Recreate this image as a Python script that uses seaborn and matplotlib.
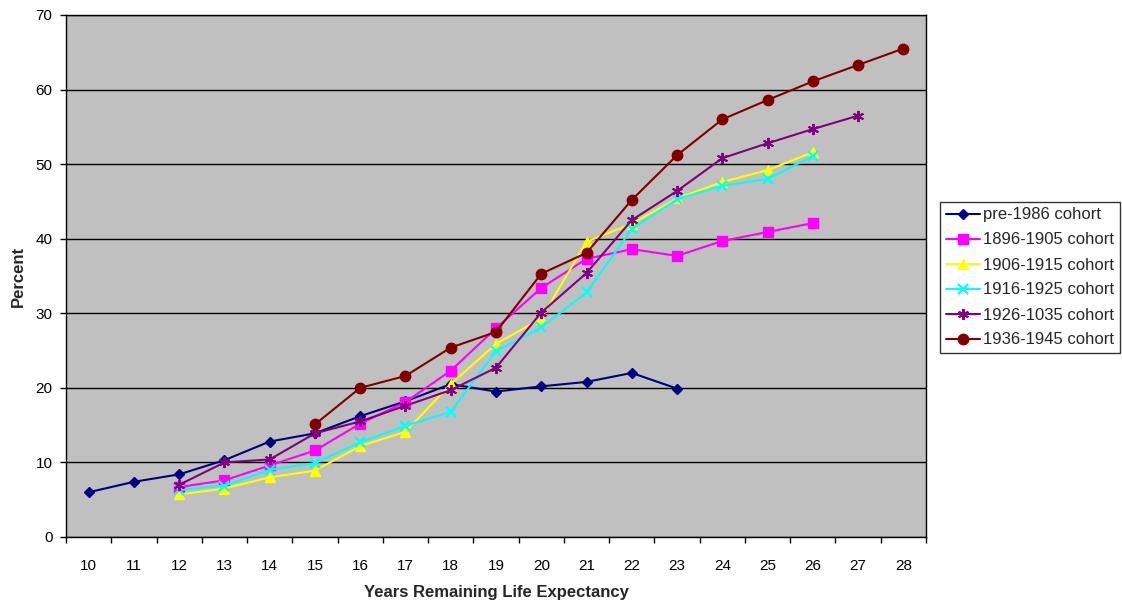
import matplotlib
matplotlib.use("Agg")
import matplotlib.pyplot as plt
import seaborn as sns
import pandas as pd
from matplotlib.ticker import FixedLocator, NullFormatter

# Years of remaining life expectancy (category axis)
years = list(range(10, 29))

# Percent by cohort; each series starts at its own first year
pre1986_x = list(range(10, 24))
pre1986 = [6.0, 7.4, 8.4, 10.3, 12.8, 13.9, 16.2, 18.2, 20.5, 19.5, 20.2, 20.8, 22.0, 19.9]

c1896_x = list(range(12, 27))
c1896 = [6.7, 7.6, 9.6, 11.6, 15.2, 18.1, 22.3, 28.0, 33.4, 37.3, 38.6, 37.7, 39.7, 40.9, 42.1]

c1906_x = list(range(12, 27))
c1906 = [5.7, 6.5, 8.0, 8.9, 12.2, 14.1, 20.5, 25.9, 29.3, 39.6, 42.0, 45.4, 47.6, 49.2, 51.6]

c1916_x = list(range(12, 27))
c1916 = [6.3, 6.9, 9.0, 9.9, 12.7, 14.9, 16.8, 24.9, 28.1, 32.8, 41.3, 45.3, 47.1, 48.0, 51.1]

c1926_x = list(range(12, 28))
c1926 = [7.0, 10.0, 10.4, 13.9, 15.5, 17.6, 19.7, 22.7, 30.1, 35.4, 42.5, 46.4, 50.8, 52.8, 54.7, 56.5]

c1936_x = list(range(15, 29))
c1936 = [15.1, 20.0, 21.6, 25.4, 27.5, 35.3, 38.1, 45.2, 51.2, 56.0, 58.6, 61.1, 63.3, 65.5]

labels = ["pre-1986 cohort", "1896-1905 cohort", "1906-1915 cohort",
          "1916-1925 cohort", "1926-1035 cohort", "1936-1945 cohort"]

sns.set_theme(style="white")
plt.rcParams["font.family"] = ["Liberation Sans", "DejaVu Sans"]

fig = plt.figure(figsize=(11.22, 6.02), dpi=100)
fig.patch.set_facecolor("white")
ax = fig.add_axes([66 / 1122, 1 - 537 / 602, (926 - 66) / 1122, (537 - 15) / 602])
ax.set_facecolor("#C0C0C0")

series = [
    (pre1986_x, pre1986, "#000080", "D", 5.5, 1.0),
    (c1896_x, c1896, "#FF00FF", "s", 7.0, 1.0),
    (c1906_x, c1906, "#FFFF00", "^", 7.0, 1.0),
    (c1916_x, c1916, "#00FFFF", "x", 7.0, 1.6),
    (c1926_x, c1926, "#800080", (6, 2, 0), 8.0, 1.4),
    (c1936_x, c1936, "#800000", "o", 7.5, 1.0),
]

pos = {y: i for i, y in enumerate(years)}
for (xs, ys, color, marker, ms, mew), label in zip(series, labels):
    df = pd.DataFrame({"pos": [pos[v] for v in xs], "pct": ys})
    sns.lineplot(data=df, x="pos", y="pct", ax=ax, color=color, marker=marker,
                 markersize=ms, markeredgecolor=color, markerfacecolor=color,
                 markeredgewidth=mew, linewidth=1.5, label=label, legend=False,
                 estimator=None, sort=False)

ax.set_xlim(-0.5, len(years) - 0.5)
ax.set_ylim(0, 70)
ax.set_yticks(range(0, 71, 10))
ax.grid(axis="y", color="black", linewidth=1.0)
ax.set_axisbelow(True)

# Category ticks sit on the boundaries; labels sit at category centers
ax.xaxis.set_major_locator(FixedLocator([i - 0.5 for i in range(len(years) + 1)]))
ax.xaxis.set_major_formatter(NullFormatter())
ax.xaxis.set_minor_locator(FixedLocator(list(range(len(years)))))
ax.set_xticklabels([str(y) for y in years], minor=True)
ax.tick_params(axis="x", which="major", direction="out", length=4.3, width=1, color="black", bottom=True)
ax.tick_params(axis="x", which="minor", length=0, pad=16, labelsize=11, labelcolor="black")
ax.tick_params(axis="y", direction="out", length=4.3, width=1, color="black", left=True,
               labelsize=11, labelcolor="black", pad=5.5)

for side in ax.spines.values():
    side.set_color("black")
    side.set_linewidth(1.0)
    side.set_visible(True)

ax.set_xlabel("Years Remaining Life Expectancy", fontsize=12, fontweight="bold", labelpad=8.5)
ax.set_ylabel("Percent", fontsize=12, fontweight="bold", labelpad=6.5)

handles, lbls = ax.get_legend_handles_labels()
leg = fig.legend(handles, lbls, loc="upper left", bbox_to_anchor=(940 / 1122, 1 - 202 / 602),
                 frameon=True, fancybox=False, edgecolor="black", facecolor="white",
                 fontsize=12, handlelength=2.05, handletextpad=0.2, labelspacing=0.6,
                 borderpad=0.33, borderaxespad=0.0)
leg.get_frame().set_linewidth(1.0)

fig.savefig("out.png", dpi=100, facecolor="white")
